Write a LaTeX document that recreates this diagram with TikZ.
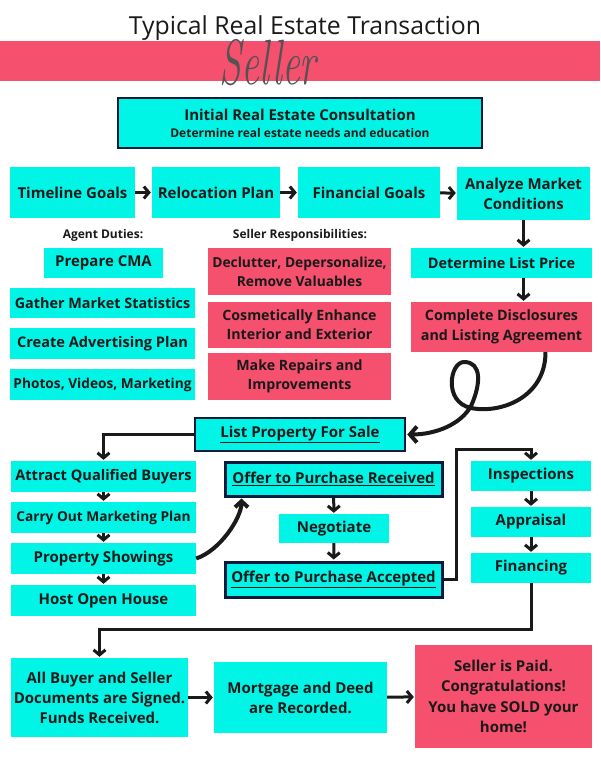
\documentclass[tikz,border=0pt]{standalone}
\usepackage{fontspec}
\setmainfont{Open Sans}
\newfontfamily\sigfont{Latin Modern Roman}
\usetikzlibrary{arrows.meta}

\definecolor{aqua}{HTML}{00F5E6}
\definecolor{rose}{HTML}{F5506D}
\definecolor{navy}{HTML}{0B1B40}
\definecolor{ink}{HTML}{1A1A1A}

\tikzset{
  cbox/.style={fill=aqua, text=ink, inner sep=0pt, align=center,
    font=\bfseries\fontsize{15}{20}\selectfont},
  pbox/.style={cbox, fill=rose},
  keybox/.style={cbox, draw=navy, line width=2.5pt},
  fs/.style={font=\bfseries\fontsize{#1}{19}\selectfont},
  heading/.style={text=ink, font=\bfseries\fontsize{12}{14}\selectfont},
  flow/.style={draw=ink, line width=3pt, shorten >=1pt,
    -{Straight Barb[length=5pt,width=12pt]}},
}

% box from its corners: style, x1, y1, x2, y2, name, text
\newcommand{\stepat}[7]{
  \node[#1, minimum width={#4-#2}, minimum height={#5-#3}] (#6) at ({(#2+#4)/2},{(#3+#5)/2}) {#7};
}

\begin{document}
\begin{tikzpicture}[x=1pt, y=-1pt]
  \useasboundingbox (0,0) rectangle (600,776);

  % title and banner
  \node[text=ink, font=\fontsize{24.8}{28}\selectfont] (title) at (305,28) {Typical Real Estate Transaction};
  \fill[rose] (0,41) rectangle (600,81);
  \node[text=ink!75, xscale=0.62, font=\sigfont\itshape\fontsize{64}{66}\selectfont] (seller) at (268,63) {Seller};

  \stepat{keybox}{118}{98}{482}{148}{consult}{Initial Real Estate Consultation\\[-3pt]{\fontsize{12}{15}\selectfont Determine real estate needs and education}}

  % planning row
  \stepat{cbox}{10}{167}{135}{218}{timeline}{Timeline Goals}
  \stepat{cbox}{152}{167}{280}{218}{relocation}{Relocation Plan}
  \stepat{cbox}{298}{167}{440}{218}{financial}{Financial Goals}
  \stepat{cbox}{457}{167}{590}{220}{analyze}{Analyze Market\\Conditions}

  \node[heading] (agentlbl) at (103,235) {Agent Duties:};
  \node[heading] (sellerlbl) at (300,235) {Seller Responsibilities:};

  % agent duties
  \stepat{cbox}{44}{248}{163}{278}{cma}{Prepare CMA}
  \stepat{cbox, fs=14.4}{10}{288}{195}{318}{stats}{Gather Market Statistics}
  \stepat{cbox, fs=14.6}{10}{328}{195}{359}{advert}{Create Advertising Plan}
  \stepat{cbox, fs=13.7}{10}{369}{195}{400}{photos}{Photos, Videos, Marketing}

  % seller responsibilities
  \stepat{pbox, fs=13.8}{208}{248}{391}{295}{declutter}{Declutter, Depersonalize,\\Remove Valuables}
  \stepat{pbox, fs=14.2}{208}{302}{391}{348}{cosmetic}{Cosmetically Enhance\\Interior and Exterior}
  \stepat{pbox, fs=14.2}{208}{353}{391}{400}{repairs}{Make Repairs and\\Improvements}

  \stepat{cbox, fs=14.5}{411}{248}{592}{278}{price}{Determine List Price}
  \stepat{pbox, font=\bfseries\fontsize{14.3}{20}\selectfont}{411}{302}{592}{352}{disclose}{Complete Disclosures\\and Listing Agreement}

  % listing and marketing
  \stepat{keybox}{195}{418}{405}{451}{listing}{\underline{List Property For Sale}}
  \stepat{cbox, fs=14.6}{11}{461}{196}{492}{attract}{Attract Qualified Buyers}
  \stepat{cbox, fs=13.7}{11}{502}{196}{533}{carry}{Carry Out Marketing Plan}
  \stepat{cbox}{11}{543}{196}{574}{showings}{Property Showings}
  \stepat{cbox}{11}{585}{196}{616}{openhouse}{Host Open House}

  % offers
  \stepat{keybox, line width=3pt}{225}{462}{442}{496}{received}{\underline{Offer to Purchase Received}}
  \stepat{cbox}{279}{514}{389}{543}{negotiate}{Negotiate}
  \stepat{keybox, line width=3pt}{225}{562}{442}{597}{accepted}{\underline{Offer to Purchase Accepted}}

  % due diligence
  \stepat{cbox}{471}{461}{591}{491}{inspect}{Inspections}
  \stepat{cbox}{471}{507}{591}{537}{appraisal}{Appraisal}
  \stepat{cbox}{471}{553}{591}{583}{financing}{Financing}

  % closing
  \stepat{cbox}{11}{658}{188}{737}{signed}{All Buyer and Seller\\Documents are Signed.\\Funds Received.}
  \stepat{cbox}{214}{662}{387}{733}{recorded}{Mortgage and Deed\\are Recorded.}
  \stepat{pbox, font=\bfseries\fontsize{15}{20.5}\selectfont}{415}{645}{592}{748}{paid}{Seller is Paid.\\Congratulations!\\You have SOLD your\\home!}

  \coordinate (upturn) at (456,449);
  \coordinate (backturn) at (99.5,629);

  \draw[flow] (timeline) -- (relocation);
  \draw[flow] (relocation) -- (financial);
  \draw[flow] (financial) -- (analyze);
  \draw[flow] (analyze.south) -- (analyze.south |- price.north);
  \draw[flow] (price.south -| analyze.south) -- (disclose.north -| analyze.south);
  \draw[flow, line width=4pt, -{Straight Barb[length=7pt,width=16pt]}]
    ([xshift=44pt]disclose.south) .. controls +(0,45) and +(30,6) .. (471,408)
    .. controls +(-28,-6) and +(-14,0) .. (464,362)
    .. controls +(18,0) and +(10,-22) .. (471,406)
    .. controls +(-10,18) and +(30,0) .. (listing.east);
  \draw[flow] (listing.west) -| (attract.north);
  \draw[flow] (attract) -- (carry);
  \draw[flow] (carry) -- (showings);
  \draw[flow] (showings) -- (openhouse);
  \draw[flow, line width=4pt, -{Straight Barb[length=6pt,width=13pt]}]
    (showings.east) .. controls +(24,-8) and +(0,20) .. ([xshift=18pt]received.south west);
  \draw[flow] (received) -- (negotiate);
  \draw[flow] (negotiate) -- (accepted);
  \draw[flow] (accepted.east) -| (upturn) -| (inspect.north);
  \draw[flow] (inspect) -- (appraisal);
  \draw[flow] (appraisal) -- (financing);
  \draw[flow] (financing.south) |- (backturn) -- (signed.north);
  \draw[flow] (signed) -- (recorded);
  \draw[flow] (recorded) -- (paid);
\end{tikzpicture}
\end{document}
